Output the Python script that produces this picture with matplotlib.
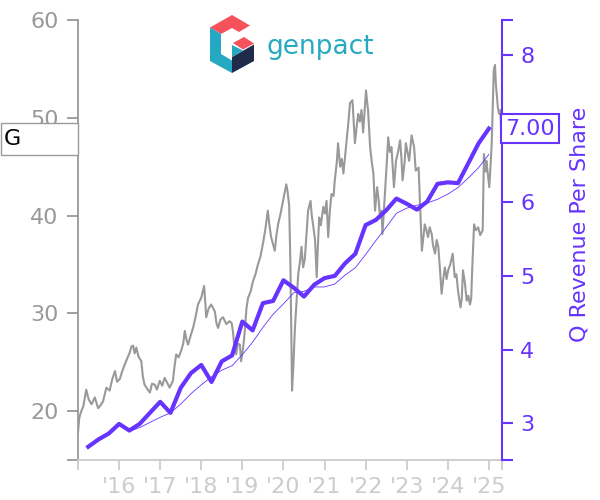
import matplotlib
matplotlib.use('Agg')
import matplotlib.pyplot as plt
import matplotlib.transforms as mtransforms
from matplotlib.patches import Polygon, Rectangle
import numpy as np

# share price (fractional year, close)
price_t = [2015.00, 2015.03, 2015.08, 2015.13, 2015.20, 2015.26, 2015.33, 2015.41, 2015.49, 2015.55,
           2015.61, 2015.69, 2015.77, 2015.83, 2015.90, 2015.95, 2016.02, 2016.07, 2016.14, 2016.19,
           2016.26, 2016.30, 2016.34, 2016.38, 2016.42, 2016.47, 2016.54, 2016.58, 2016.62, 2016.68,
           2016.75, 2016.80, 2016.87, 2016.92, 2016.99, 2017.05, 2017.11, 2017.17, 2017.23, 2017.31,
           2017.35, 2017.39, 2017.45, 2017.52, 2017.56, 2017.60, 2017.64, 2017.68, 2017.74, 2017.80,
           2017.86, 2017.92, 2018.00, 2018.07, 2018.10, 2018.12, 2018.18, 2018.24, 2018.33, 2018.37,
           2018.41, 2018.47, 2018.53, 2018.61, 2018.69, 2018.74, 2018.77, 2018.81, 2018.85, 2018.89,
           2018.94, 2018.97, 2019.02, 2019.06, 2019.10, 2019.14, 2019.20, 2019.26, 2019.32, 2019.38,
           2019.44, 2019.50, 2019.56, 2019.62, 2019.66, 2019.70, 2019.79, 2019.83, 2019.87, 2019.93,
           2019.99, 2020.07, 2020.10, 2020.14, 2020.17, 2020.21, 2020.24, 2020.28, 2020.32, 2020.36,
           2020.40, 2020.44, 2020.48, 2020.52, 2020.56, 2020.60, 2020.66, 2020.69, 2020.73, 2020.77,
           2020.81, 2020.84, 2020.87, 2020.91, 2020.97, 2021.01, 2021.05, 2021.09, 2021.13, 2021.17,
           2021.22, 2021.25, 2021.30, 2021.33, 2021.38, 2021.42, 2021.46, 2021.50, 2021.54, 2021.58,
           2021.62, 2021.68, 2021.74, 2021.78, 2021.82, 2021.86, 2021.90, 2021.94, 2021.98, 2022.01,
           2022.04, 2022.06, 2022.11, 2022.15, 2022.19, 2022.23, 2022.28, 2022.32, 2022.35, 2022.39,
           2022.41, 2022.47, 2022.51, 2022.55, 2022.59, 2022.63, 2022.69, 2022.74, 2022.79, 2022.84,
           2022.87, 2022.90, 2022.95, 2022.98, 2023.02, 2023.06, 2023.12, 2023.18, 2023.22, 2023.29,
           2023.34, 2023.37, 2023.41, 2023.44, 2023.48, 2023.52, 2023.56, 2023.61, 2023.64, 2023.69,
           2023.73, 2023.77, 2023.81, 2023.85, 2023.89, 2023.93, 2023.97, 2024.01, 2024.06, 2024.12,
           2024.17, 2024.21, 2024.25, 2024.31, 2024.34, 2024.37, 2024.42, 2024.46, 2024.50, 2024.54,
           2024.57, 2024.59, 2024.64, 2024.68, 2024.74, 2024.79, 2024.85, 2024.88, 2024.92, 2024.94,
           2024.98, 2025.01, 2025.04, 2025.07, 2025.10, 2025.12, 2025.15, 2025.17, 2025.19, 2025.22,
           2025.25, 2025.28, 2025.31]
price = [17.8, 19.3, 20.0, 20.5, 22.2, 21.2, 20.7, 21.4, 20.3, 20.6,
         21.0, 22.4, 22.1, 23.2, 24.1, 23.0, 23.3, 24.0, 24.8, 25.3,
         26.0, 26.6, 26.7, 25.9, 26.5, 25.6, 25.1, 23.5, 22.7, 22.3,
         21.9, 22.8, 22.7, 22.2, 23.1, 22.6, 23.4, 22.9, 22.4, 23.1,
         24.6, 25.8, 25.5, 26.3, 26.9, 28.2, 27.3, 26.8, 27.7, 28.5,
         29.6, 30.9, 31.6, 32.8, 31.0, 29.6, 30.5, 30.9, 30.2, 29.0,
         28.5, 29.4, 29.6, 28.9, 29.2, 29.0, 28.2, 26.4, 25.8, 26.9,
         26.8, 25.1, 26.5, 28.2, 30.5, 31.6, 32.2, 33.3, 34.0, 35.0,
         35.8, 37.1, 38.6, 40.5, 39.0, 37.8, 36.4, 38.0, 39.1, 40.2,
         41.5, 43.2, 42.5, 41.0, 35.0, 22.1, 24.5, 28.5, 31.3, 34.0,
         35.2, 36.8, 34.7, 35.5, 38.0, 40.5, 41.5, 40.0, 38.8, 37.5,
         33.7, 37.0, 39.8, 39.0, 40.9, 40.2, 41.5, 37.8, 40.5, 42.2,
         42.0, 43.6, 45.5, 47.4, 45.0, 45.8, 44.3, 46.0, 47.7, 49.5,
         51.5, 51.8, 47.4, 49.0, 50.4, 49.6, 50.8, 48.5, 51.0, 52.8,
         51.5, 50.8, 47.0, 45.5, 44.3, 40.5, 42.9, 41.5, 39.8, 40.5,
         38.1, 42.2, 45.0, 48.0, 46.5, 47.0, 42.9, 45.6, 46.5, 47.7,
         46.0, 43.6, 45.5, 47.4, 46.5, 45.6, 48.2, 47.0, 44.6, 44.9,
         39.5, 36.4, 38.0, 39.1, 38.5, 37.8, 38.8, 38.1, 37.0, 36.1,
         37.5, 36.8, 34.5, 32.0, 33.5, 34.7, 33.5, 34.4, 35.0, 36.1,
         33.7, 34.0, 32.3, 30.6, 31.5, 34.4, 33.0, 31.3, 31.8, 30.9,
         31.5, 34.0, 39.1, 38.5, 38.8, 38.0, 38.5, 46.3, 44.5, 45.6,
         44.0, 42.9, 45.0, 47.4, 52.0, 54.9, 55.4, 53.5, 52.5, 51.0,
         50.4, 50.8, 47.8]

# quarterly revenue per share, Q1 2015 .. Q4 2024 (plotted at quarter end)
quarters = np.arange(2015.25, 2025.01, 0.25)
rev_ps = [2.68, 2.78, 2.86, 2.99, 2.90, 2.99, 3.14, 3.29, 3.14, 3.48,
          3.68, 3.79, 3.56, 3.84, 3.92, 4.38, 4.26, 4.63, 4.66, 4.94,
          4.84, 4.72, 4.88, 4.97, 5.00, 5.17, 5.30, 5.69, 5.76, 5.89,
          6.05, 5.98, 5.90, 6.01, 6.25, 6.27, 6.26, 6.53, 6.80, 7.00]
# thin line: trailing four-quarter average (from Q1 2016)
rev_ps_avg = [2.89, 2.94, 3.01, 3.08, 3.14, 3.26, 3.40, 3.52, 3.63, 3.72,
              3.78, 3.93, 4.10, 4.30, 4.48, 4.62, 4.77, 4.79, 4.85, 4.85,
              4.89, 5.01, 5.11, 5.29, 5.48, 5.66, 5.85, 5.92, 5.96, 5.99,
              6.04, 6.11, 6.20, 6.33, 6.47, 6.65]

years = list(range(2015, 2026))
year_labels = [''] + ["'" + str(y)[2:] for y in years[1:]]

purple = '#6633ff'
gray = '#999999'
light = '#cccccc'
x_end = 2025.32

fig = plt.figure(figsize=(6, 5), dpi=100)
ax = fig.add_axes([78 / 600, 40 / 500, 424 / 600, 440 / 500])
ax2 = ax.twinx()

ax.plot(price_t, price, color=gray, linewidth=1.5)
ax2.plot(quarters[4:], rev_ps_avg, color=purple, linewidth=0.6)
ax2.plot(quarters, rev_ps, color=purple, linewidth=3)

ax.set_xlim(2015.0, x_end)
ax.set_ylim(15, 60)
ax2.set_ylim(2.5, 8.475)

ax.set_xticks(years + [x_end])
ax.set_xticklabels(year_labels + [''])
ax.set_yticks([15, 20, 30, 40, 50, 60])
ax.set_yticklabels(['', '20', '30', '40', '50', '60'])
ax2.set_yticks([2.5, 3, 4, 5, 6, 7, 8, 8.475])
ax2.set_yticklabels(['', '3', '4', '5', '6', '', '8', ''])

for s in ['top', 'right']:
    ax.spines[s].set_visible(False)
for s in ['top', 'left', 'bottom']:
    ax2.spines[s].set_visible(False)
ax.spines['left'].set_color(gray)
ax.spines['left'].set_linewidth(1.3)
ax.spines['bottom'].set_color(light)
ax.spines['bottom'].set_linewidth(1.3)
ax2.spines['right'].set_color(purple)
ax2.spines['right'].set_linewidth(1.5)

ax.tick_params(axis='y', colors=gray, labelsize=16, length=8, width=1.3, pad=6)
ax.tick_params(axis='x', colors=light, labelsize=16, length=7, width=1.3, pad=5)
ax2.tick_params(axis='y', colors=purple, labelsize=16, length=8, width=1.5, pad=5)

ax2.set_ylabel('Q Revenue Per Share', color=purple, fontsize=16)
ax2.yaxis.set_label_coords(1.16, 0.536)

# last-value labels
trans = mtransforms.blended_transform_factory(fig.transFigure, ax.transData)
ax.add_patch(Rectangle((0.001, price[-1] - 1.64), 78 / 600 - 0.001, 3.28, transform=trans,
                       facecolor='white', edgecolor=gray, linewidth=1, clip_on=False, zorder=5))
ax.text(0.006, price[-1], 'G', transform=trans, fontsize=16, color='black',
        ha='left', va='center', zorder=6)
ax2.text(1.008, rev_ps[-1], f'{rev_ps[-1]:.2f}', transform=ax2.get_yaxis_transform(),
         fontsize=16, color=purple, ha='left', va='center', zorder=6,
         bbox=dict(boxstyle='square,pad=0.2', facecolor='white', edgecolor=purple, linewidth=1.5))

# logo
def px(pts):
    return [(x / 600, 1 - y / 500) for x, y in pts]

logo = [
    ([(210, 27.5), (232, 15), (250, 25.5), (239, 32), (232, 28), (221, 34)], '#f5525c'),
    ([(210, 27.5), (221, 34), (221, 54), (232, 60.5), (232, 73), (210, 61)], '#25a9c2'),
    ([(232, 57), (254, 44.5), (254, 61), (232, 73)], '#1e2b4a'),
    ([(233, 43), (244, 37), (254, 43.5), (243, 49.5)], '#f5525c'),
    ([(232, 45), (243, 50.5), (232, 57)], '#25a9c2'),
]
for pts, c in logo:
    fig.patches.append(Polygon(px(pts), closed=True, transform=fig.transFigure,
                               facecolor=c, edgecolor='none'))
fig.text(267 / 600, 1 - 54 / 500, 'genpact', color='#27aac1', fontsize=19,
         ha='left', va='baseline')

plt.savefig('out.png', dpi=100)
